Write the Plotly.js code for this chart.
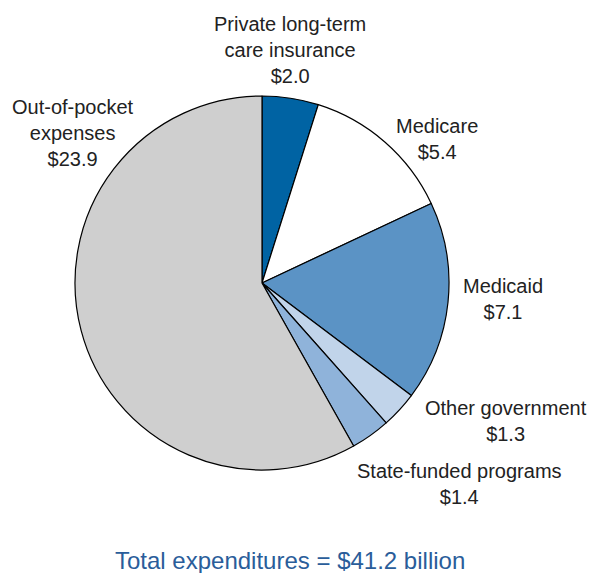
<!DOCTYPE html>
<html><head><meta charset="utf-8">
<script src="https://cdn.plot.ly/plotly-3.0.1.min.js"></script>
<style>body{margin:0;background:#fff}#c{width:592px;height:573px}</style>
</head><body><div id="c"></div>
<script>
const labels = ["Private long-term care insurance","Medicare","Medicaid","Other government","State-funded programs","Out-of-pocket expenses"];
const labelText = ["Private long-term<br>care insurance<br>$2.0","Medicare<br>$5.4","Medicaid<br>$7.1","Other government<br>$1.3","State-funded programs<br>$1.4","Out-of-pocket<br>expenses<br>$23.9"];
const values = [2.0, 5.4, 7.1, 1.3, 1.4, 23.9];
const colors = ["#0063a3","#ffffff","#5b93c5","#c1d4ea","#8fb3da","#cfcfcf"];
const totalText = "Total expenditures = $41.2 billion";

const W = 592, H = 573;
const labelPos = [[290,50],[437,139],[503,299],[506,421],[460,484],[73,133]];
const font = {family:"Liberation Sans, Arial, sans-serif", size:20, color:"#222"};
const ann = labelText.map((t,i)=>({text:t, x:labelPos[i][0]/W, y:1-labelPos[i][1]/H, xref:"paper", yref:"paper", showarrow:false, xanchor:"center", yanchor:"middle", align:"center", font:font}));
ann.push({text:totalText, x:290/W, y:1-560/H, xref:"paper", yref:"paper", showarrow:false, xanchor:"center", yanchor:"middle", font:{family:"Liberation Sans, Arial, sans-serif", size:24, color:"#2a5d9a"}});

Plotly.newPlot("c", [{
  type:"pie", labels:labels, values:values, sort:false, direction:"clockwise", rotation:0,
  marker:{colors:colors, line:{color:"#000", width:1.2}}, textinfo:"none", hoverinfo:"none",
  domain:{x:[(262-187)/W,(262+187)/W], y:[1-470/H,1-96/H]}
}], {
  width:W, height:H, margin:{l:0,r:0,t:0,b:0}, showlegend:false,
  paper_bgcolor:"#fff", annotations:ann
}, {displayModeBar:false, staticPlot:true});
</script></body></html>
